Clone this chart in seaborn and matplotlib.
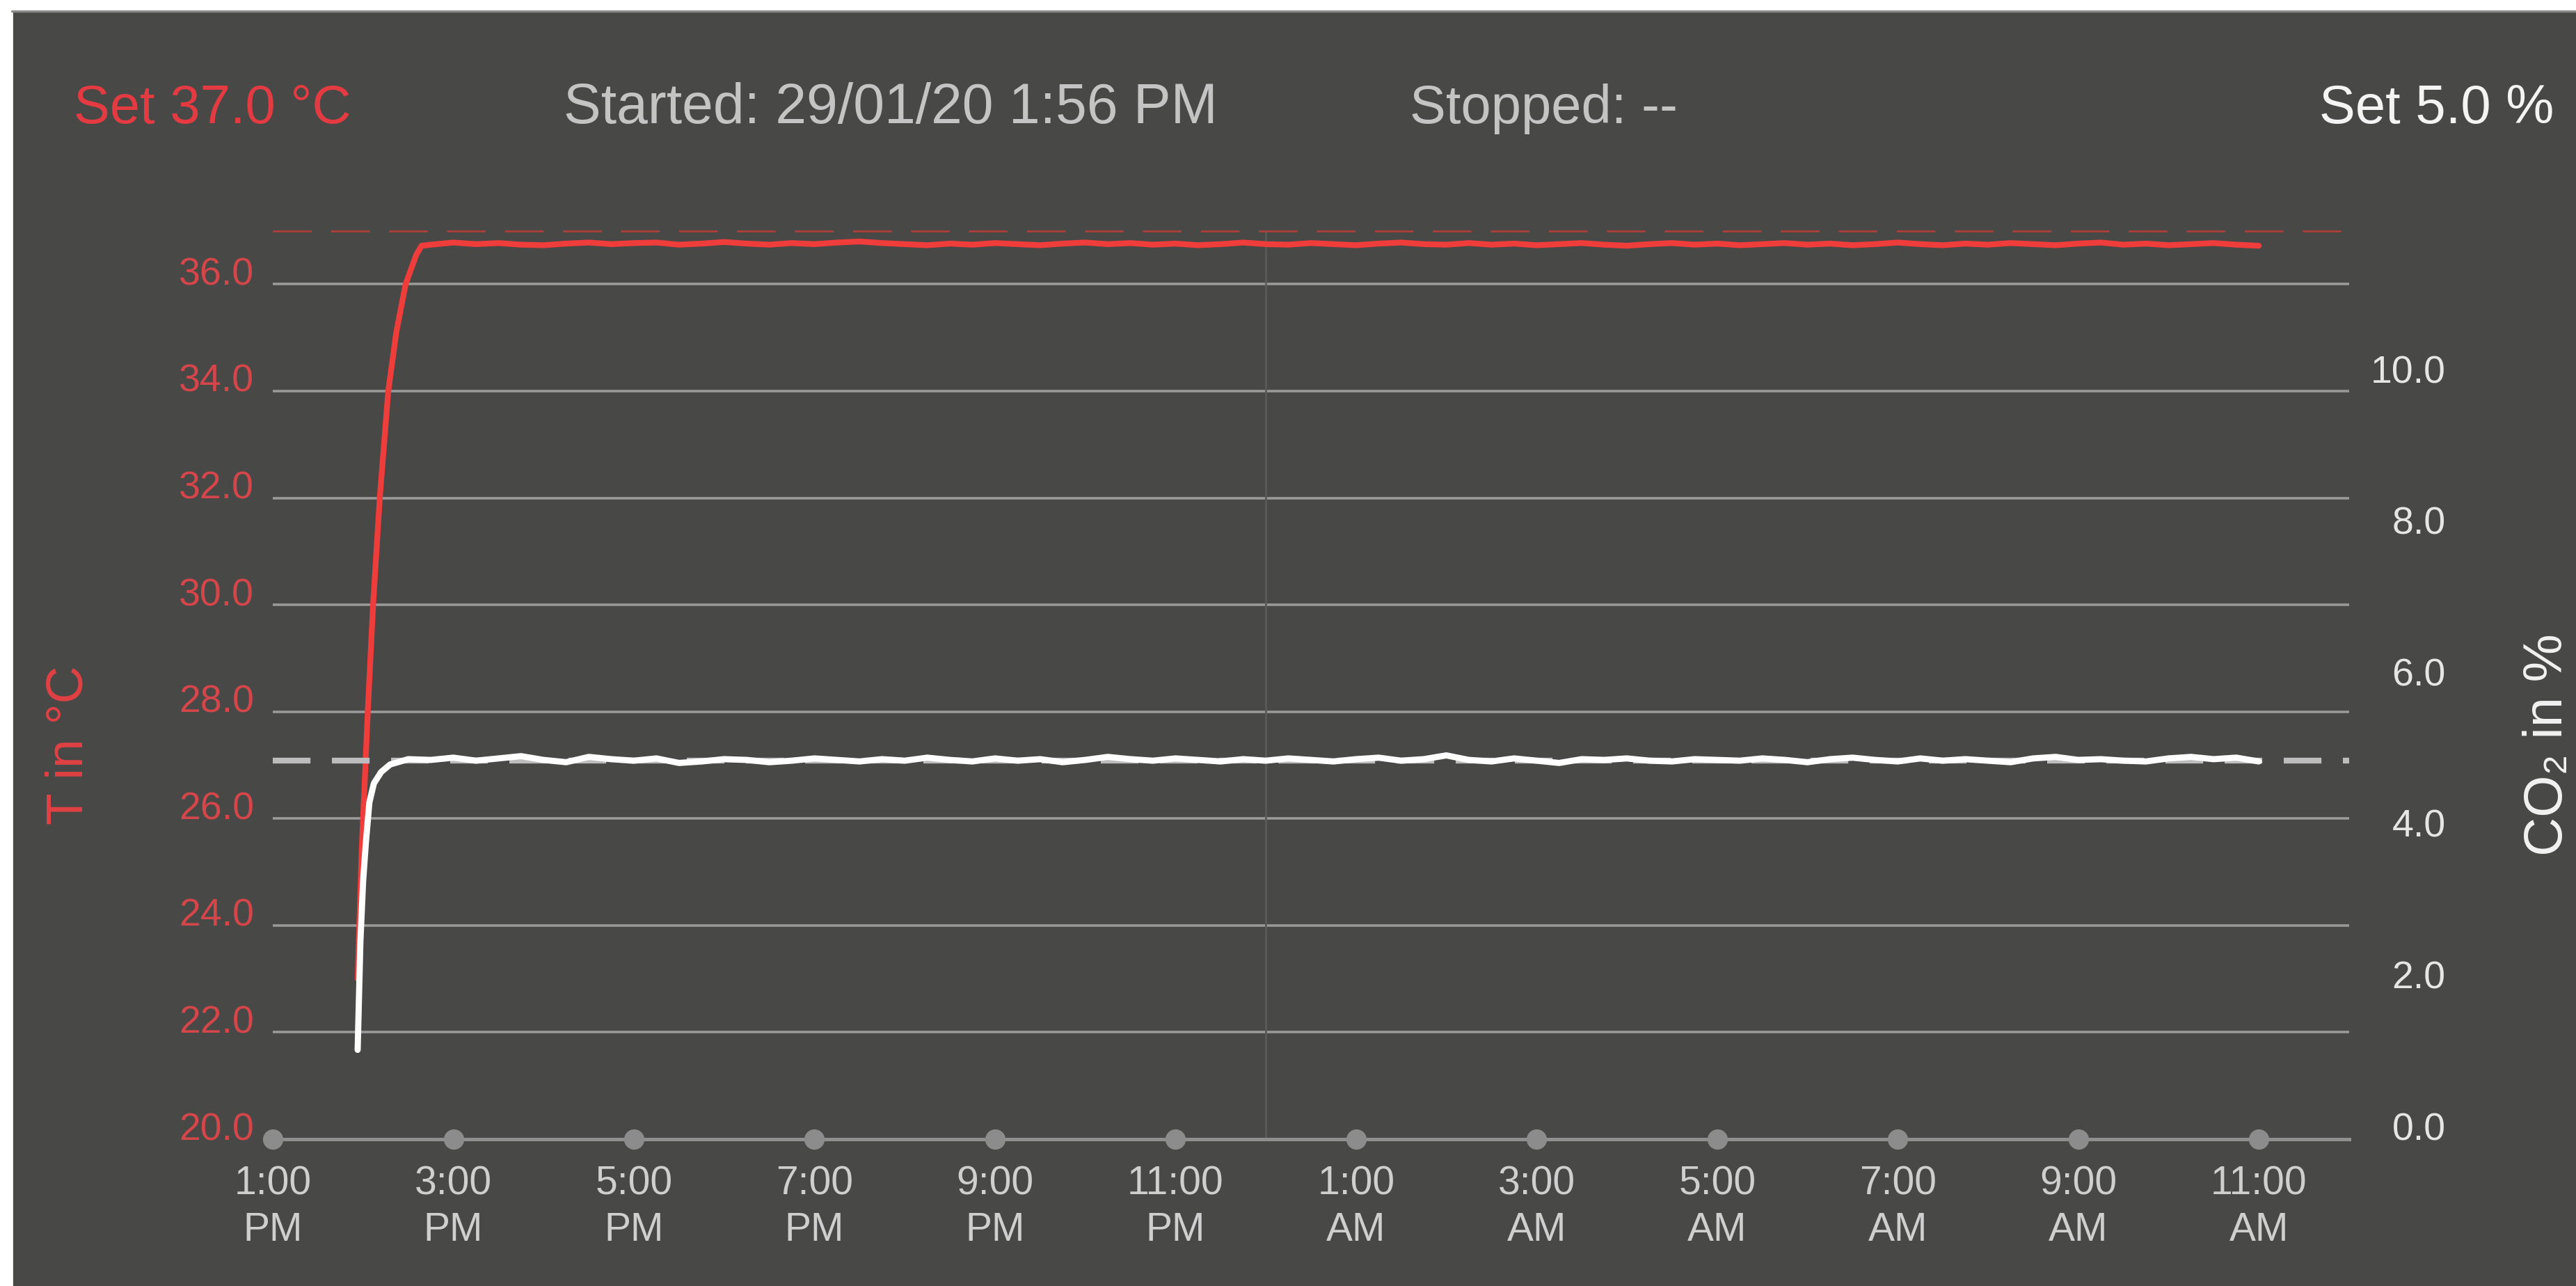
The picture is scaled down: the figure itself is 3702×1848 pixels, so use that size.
import numpy as np
import pandas as pd
import matplotlib.pyplot as plt
import seaborn as sns
from matplotlib.patches import Rectangle
from matplotlib.lines import Line2D

# Registro da incubadora: horas contadas a partir de 29/01/20 13:00
horas_subida_t = [0.94, 0.985, 1.052, 1.111, 1.185, 1.279, 1.368, 1.471, 1.589, 1.648]
temp_subida = [23.0, 25.4, 28.0, 30.0, 32.0, 34.0, 35.1, 36.0, 36.55, 36.72]

# temperatura estavel, uma leitura a cada 15 min a partir de 1.75 h
temp_estavel = [
    36.74, 36.78, 36.75, 36.77, 36.74, 36.73, 36.76, 36.78, 36.75, 36.77,
    36.78, 36.74, 36.76, 36.79, 36.76, 36.74, 36.77, 36.75, 36.78, 36.80,
    36.77, 36.75, 36.73, 36.76, 36.74, 36.77, 36.75, 36.73, 36.76, 36.78,
    36.75, 36.77, 36.74, 36.76, 36.73, 36.75, 36.78, 36.75, 36.74, 36.77,
    36.75, 36.73, 36.76, 36.78, 36.75, 36.74, 36.77, 36.74, 36.76, 36.73,
    36.75, 36.77, 36.74, 36.72, 36.75, 36.77, 36.74, 36.76, 36.73, 36.75,
    36.77, 36.74, 36.76, 36.73, 36.75, 36.78, 36.75, 36.73, 36.76, 36.74,
    36.77, 36.75, 36.73, 36.76, 36.78, 36.74, 36.76, 36.73, 36.75, 36.77,
    36.74, 36.72,
]

horas_subida_c = [0.94, 0.97, 1.0, 1.03, 1.07, 1.12, 1.2, 1.3]
co2_subida = [1.18, 2.6, 3.4, 3.9, 4.45, 4.7, 4.85, 4.95]

# CO2 estavel, uma leitura a cada 15 min a partir de 1.5 h
co2_estavel = [
    5.02, 5.01, 5.04, 5.00, 5.03, 5.06, 5.01, 4.98, 5.05, 5.02,
    5.00, 5.03, 4.97, 4.99, 5.02, 5.01, 4.98, 5.00, 5.03, 5.01,
    4.99, 5.02, 5.00, 5.04, 5.01, 4.99, 5.03, 5.00, 5.02, 4.98,
    5.01, 5.05, 5.02, 5.00, 5.03, 5.01, 4.99, 5.02, 5.00, 5.03,
    5.01, 4.99, 5.02, 5.04, 5.00, 5.02, 5.07, 5.01, 4.99, 5.03,
    5.00, 4.97, 5.02, 5.01, 5.03, 5.00, 4.99, 5.02, 5.01, 5.00,
    5.03, 5.01, 4.98, 5.02, 5.04, 5.01, 4.99, 5.03, 5.00, 5.02,
    5.00, 4.98, 5.03, 5.05, 5.01, 5.02, 5.00, 4.99, 5.03, 5.05,
    5.02, 5.04, 4.99,
]

horas_ticks = [0, 2, 4, 6, 8, 10, 12, 14, 16, 18, 20, 22]
rotulos_x = ["1:00\nPM", "3:00\nPM", "5:00\nPM", "7:00\nPM", "9:00\nPM", "11:00\nPM",
             "1:00\nAM", "3:00\nAM", "5:00\nAM", "7:00\nAM", "9:00\nAM", "11:00\nAM"]
ticks_temp = [20, 22, 24, 26, 28, 30, 32, 34, 36]
ticks_co2 = [0, 2, 4, 6, 8, 10]
temp_set = 37.0
co2_set = 5.0
meia_noite = 11

FUNDO = '#484847'
VERMELHO = '#ee3d3b'
VERMELHO_TXT = '#d4464a'

sns.set_style("dark", rc={'axes.facecolor': FUNDO, 'figure.facecolor': FUNDO})
plt.rcParams['font.family'] = ['Liberation Sans', 'DejaVu Sans']

t_horas = horas_subida_t + [1.75 + 0.25 * i for i in range(len(temp_estavel))]
df_t = pd.DataFrame({'hora': t_horas, 'temp': temp_subida + temp_estavel})
c_horas = horas_subida_c + [1.5 + 0.25 * i for i in range(len(co2_estavel))]
df_c = pd.DataFrame({'hora': c_horas, 'co2': co2_subida + co2_estavel})

fig = plt.figure(figsize=(18.51, 9.245), dpi=200)
ax = fig.add_axes([0.1059, 0.1141, 0.806, 0.706])
ax.set_facecolor(FUNDO)
ax.set_axisbelow(True)

# linhas de referencia
ax.axvline(meia_noite, color='#5a5a5a', lw=1.0, zorder=1)
ax.axhline(temp_set, color='#ad3f3c', lw=1.0, ls=(0, (20, 10)), clip_on=False, zorder=2)

sns.lineplot(data=df_t, x='hora', y='temp', ax=ax, color=VERMELHO, lw=3.0)
ax.plot(horas_ticks, [ticks_temp[0]] * len(horas_ticks), 'o', ms=9.5,
        color='#8c8c8c', clip_on=False, zorder=5)

ax.set_xlim(0, 23)
ax.set_ylim(20, 37)
ax.set_xlabel('')
ax.set_ylabel('')
for s in ['top', 'left', 'right']:
    ax.spines[s].set_visible(False)
ax.spines['bottom'].set_color('#8f8f8f')
ax.spines['bottom'].set_linewidth(1.8)

ax.set_yticks(ticks_temp, [f"{v:.1f}" for v in ticks_temp])
ax.tick_params(axis='y', length=0, pad=9.8, labelcolor=VERMELHO_TXT, labelsize=20)
ax.yaxis.grid(True, color='#999999', lw=1.3)
ax.xaxis.grid(False)
ax.set_xticks(horas_ticks, rotulos_x)
ax.tick_params(axis='x', length=0, pad=13, labelcolor='#cfcfcf', labelsize=20.5)
for lbl in ax.get_xticklabels():
    lbl.set_linespacing(1.3)
for tk in ax.yaxis.get_major_ticks():
    tk.label1.set_va('baseline')

ax2 = ax.twinx()
ax2.axhline(co2_set, color='#bdbdbd', lw=3, ls=(0, (6.5, 3.7)), zorder=2)
sns.lineplot(data=df_c, x='hora', y='co2', ax=ax2, color='white', lw=3.2)
ax2.set_ylim(0, 12)
ax2.set_xlim(0, 23)
ax2.set_ylabel('')
ax2.grid(False)
for s in ax2.spines.values():
    s.set_visible(False)
ax2.set_yticks(ticks_co2, [f"{v:.1f}" for v in ticks_co2])
ax2.tick_params(axis='y', length=0, pad=50, labelcolor='#e6e6e6', labelsize=20)
for tk in ax2.yaxis.get_major_ticks():
    tk.label2.set_ha('right')
    tk.label2.set_va('baseline')

# titulos das escalas
fig.text(0.0268, 0.421, 'T in °C', color='#e04044', fontsize=27, rotation=90,
         ha='center', va='center')
fig.text(0.999, 0.421, 'CO₂ in %', color='#f2f2f2', fontsize=28, rotation=90,
         ha='right', va='center')

# cabecalho
fig.text(0.0287, 0.9043, 'Set 37.0 °C', color='#e33b41', fontsize=28, va='baseline')
fig.text(0.2188, 0.9043, 'Started: 29/01/20 1:56 PM', color='#c4c4c4', fontsize=29, va='baseline')
fig.text(0.5472, 0.9043, 'Stopped: --', color='#c4c4c4', fontsize=28, va='baseline')
fig.text(0.9914, 0.9043, 'Set 5.0 %', color='#f4f4f4', fontsize=28, va='baseline', ha='right')

# moldura branca da captura de tela
fig.add_artist(Rectangle((0, 1 - 15 / 1849), 1, 15 / 1849, transform=fig.transFigure,
                         color='white', zorder=10))
fig.add_artist(Rectangle((0, 0), 17 / 3702, 1, transform=fig.transFigure,
                         color='white', zorder=10))
fig.add_artist(Line2D([17 / 3702, 1], [1 - 16.5 / 1849] * 2, transform=fig.transFigure,
                      color='#8a8a8a', lw=1.2, zorder=10))

plt.savefig('out.png', dpi=200, facecolor=FUNDO)
